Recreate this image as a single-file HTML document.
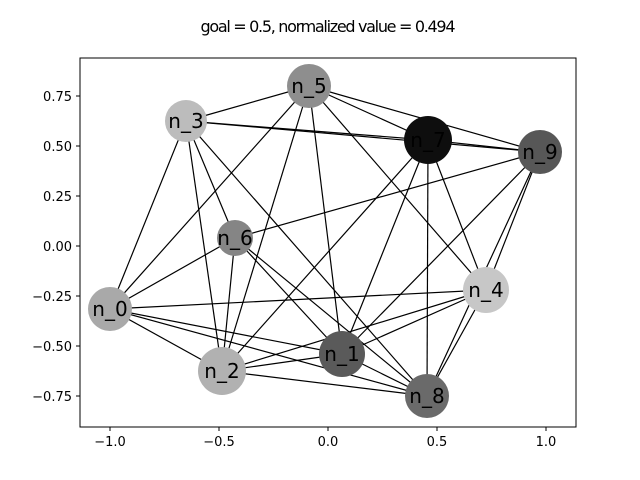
<!DOCTYPE html>
<html><head><style>body{margin:0;background:#fff}svg{display:block}text{font-family:"DejaVu Sans","Liberation Sans",sans-serif}</style></head><body>
<svg width="640" height="480" xmlns="http://www.w3.org/2000/svg">
<text x="328" y="32" font-size="16" text-anchor="middle" textLength="255">goal = 0.5, normalized value = 0.494</text>
<g stroke="#000" stroke-width="1.2">
<line x1="186" y1="121" x2="309" y2="86"/><line x1="186" y1="121" x2="428" y2="140"/><line x1="186" y1="121" x2="540" y2="152"/>
<line x1="186" y1="121" x2="110" y2="309"/><line x1="186" y1="121" x2="222" y2="371"/><line x1="186" y1="121" x2="235" y2="238"/><line x1="186" y1="121" x2="427" y2="396"/>
<line x1="309" y1="86" x2="428" y2="140"/><line x1="309" y1="86" x2="540" y2="152"/><line x1="309" y1="86" x2="110" y2="309"/><line x1="309" y1="86" x2="222" y2="371"/><line x1="309" y1="86" x2="342" y2="354"/><line x1="309" y1="86" x2="486" y2="290"/>
<line x1="428" y1="140" x2="540" y2="152"/><line x1="428" y1="140" x2="222" y2="371"/><line x1="428" y1="140" x2="342" y2="354"/><line x1="428" y1="140" x2="427" y2="396"/><line x1="428" y1="140" x2="486" y2="290"/>
<line x1="540" y1="152" x2="235" y2="238"/><line x1="540" y1="152" x2="342" y2="354"/><line x1="540" y1="152" x2="486" y2="290"/><line x1="540" y1="152" x2="427" y2="396"/>
<line x1="235" y1="238" x2="110" y2="309"/><line x1="235" y1="238" x2="222" y2="371"/><line x1="235" y1="238" x2="342" y2="354"/><line x1="235" y1="238" x2="427" y2="396"/>
<line x1="486" y1="290" x2="110" y2="309"/><line x1="486" y1="290" x2="222" y2="371"/><line x1="486" y1="290" x2="342" y2="354"/><line x1="486" y1="290" x2="427" y2="396"/>
<line x1="110" y1="309" x2="342" y2="354"/><line x1="110" y1="309" x2="222" y2="371"/><line x1="110" y1="309" x2="427" y2="396"/>
<line x1="222" y1="371" x2="342" y2="354"/><line x1="222" y1="371" x2="427" y2="396"/><line x1="342" y1="354" x2="427" y2="396"/>
</g>
<g>
<circle cx="110" cy="309" r="22" fill="#a9a9a9"/><circle cx="342" cy="354" r="23" fill="#5a5a5a"/>
<circle cx="222" cy="371" r="24" fill="#b1b1b1"/><circle cx="186" cy="121" r="21" fill="#bcbcbc"/>
<circle cx="486" cy="290" r="23" fill="#c7c7c7"/><circle cx="309" cy="86" r="22" fill="#8e8e8e"/>
<circle cx="235" cy="238" r="18" fill="#858585"/><circle cx="428" cy="140" r="24" fill="#0e0e0e"/>
<circle cx="427" cy="396" r="22" fill="#6a6a6a"/><circle cx="540" cy="152" r="22" fill="#575757"/>
</g>
<g font-size="20" text-anchor="middle">
<text x="110" y="316">n_0</text><text x="342" y="361">n_1</text><text x="222" y="378">n_2</text><text x="186" y="128">n_3</text><text x="486" y="297">n_4</text><text x="309" y="93">n_5</text><text x="235" y="245">n_6</text><text x="428" y="147">n_7</text><text x="427" y="403">n_8</text><text x="540" y="159">n_9</text>
</g>
<rect x="80" y="58" width="496" height="369" fill="none" stroke="#000" stroke-width="1"/>
<g stroke="#000" stroke-width="1">
<line x1="110" y1="427" x2="110" y2="431"/><line x1="219" y1="427" x2="219" y2="431"/><line x1="328" y1="427" x2="328" y2="431"/><line x1="437" y1="427" x2="437" y2="431"/><line x1="546" y1="427" x2="546" y2="431"/>
<line x1="76" y1="96" x2="80" y2="96"/><line x1="76" y1="146" x2="80" y2="146"/><line x1="76" y1="196" x2="80" y2="196"/><line x1="76" y1="246" x2="80" y2="246"/><line x1="76" y1="296" x2="80" y2="296"/><line x1="76" y1="346" x2="80" y2="346"/><line x1="76" y1="396" x2="80" y2="396"/>
</g>
<g font-size="13" text-anchor="middle">
<text x="110" y="446">−1.0</text><text x="219" y="446">−0.5</text><text x="328" y="446">0.0</text><text x="437" y="446">0.5</text><text x="546" y="446">1.0</text>
</g>
<g font-size="13" text-anchor="end">
<text x="72" y="101">0.75</text><text x="72" y="151">0.50</text><text x="72" y="201">0.25</text><text x="72" y="251">0.00</text><text x="72" y="301">−0.25</text><text x="72" y="351">−0.50</text><text x="72" y="401">−0.75</text>
</g>
</svg>
</body></html>
